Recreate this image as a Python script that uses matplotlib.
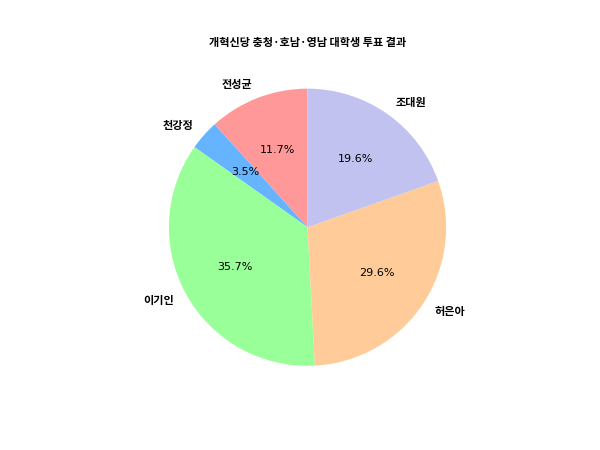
import matplotlib
matplotlib.use('Agg')
import matplotlib.pyplot as plt

candidates = ['전성균', '천강정', '이기인', '허은아', '조대원']
shares = [11.7, 3.5, 35.7, 29.6, 19.6]
colors = ['#ff9999', '#66b3ff', '#99ff99', '#ffcc99', '#c2c2f0']

fig = plt.figure(figsize=(6, 4.5), dpi=100)
ax = fig.add_subplot(111)

wedges, texts, autotexts = ax.pie(shares, labels=candidates, colors=colors,
                                  autopct='%1.1f%%', startangle=90,
                                  textprops={'fontsize': 8})
for t in texts:
    t.set_family(['Noto Sans CJK KR', 'DejaVu Sans'])
    t.set_fontweight('bold')
ax.set_title('개혁신당 충청·호남·영남 대학생 투표 결과',
             family=['Noto Sans CJK KR', 'DejaVu Sans'], fontweight='bold', fontsize=8)

fig.savefig('out.png')
